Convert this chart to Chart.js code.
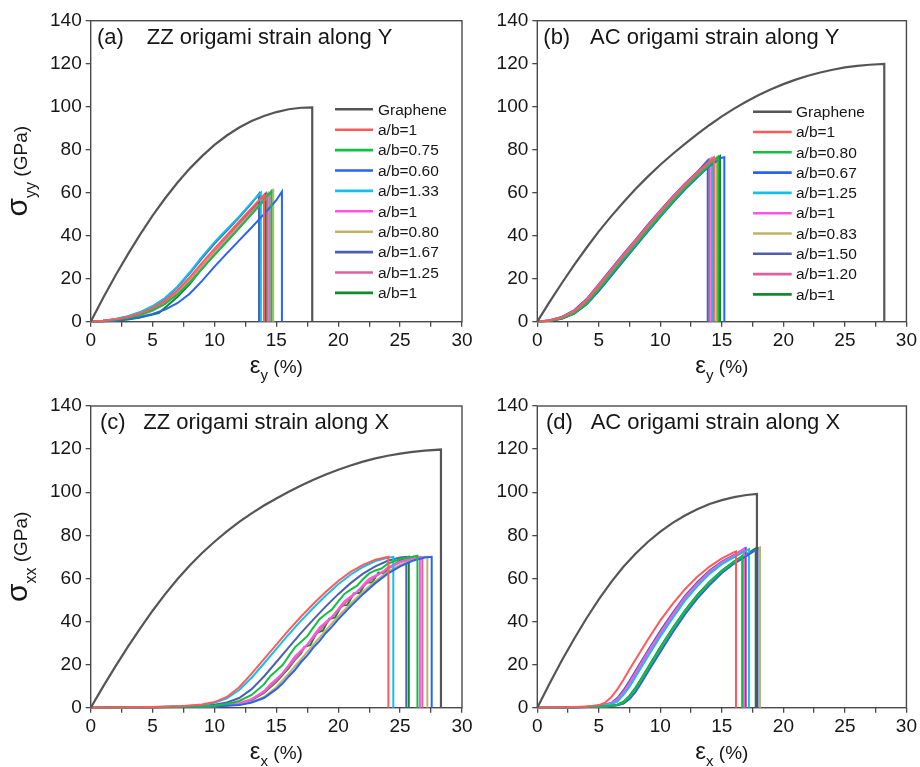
<!DOCTYPE html>
<html>
<head>
<meta charset="utf-8">
<title>Origami graphene stress-strain</title>
<script src="https://cdn.jsdelivr.net/npm/chart.js@4.4.0/dist/chart.umd.min.js"></script>
<style>
  html, body { margin: 0; padding: 0; background: #fff; }
  body { width: 920px; height: 767px; position: relative; overflow: hidden; }
  canvas { position: absolute; }
</style>
</head>
<body>
<canvas id="pa"></canvas>
<canvas id="pb"></canvas>
<canvas id="pc"></canvas>
<canvas id="pd"></canvas>
<script>
// ---------- data: [strain %, stress GPa] ----------
const labelsZZ = ['Graphene', 'a/b=1', 'a/b=0.75', 'a/b=0.60', 'a/b=1.33', 'a/b=1', 'a/b=0.80', 'a/b=1.67', 'a/b=1.25', 'a/b=1'];
const labelsAC = ['Graphene', 'a/b=1', 'a/b=0.80', 'a/b=0.67', 'a/b=1.25', 'a/b=1', 'a/b=0.83', 'a/b=1.50', 'a/b=1.20', 'a/b=1'];
const xTicks = [0, 5, 10, 15, 20, 25, 30];
const yTicks = [0, 20, 40, 60, 80, 100, 120, 140];

// (a) ZZ origami, strain along Y
const a_graphene = [[0,0],[1,11],[2,21.5],[3,31.3],[4,40.6],[5,49.3],[6,57.3],[7,64.6],[8,71.2],[9,77],[10,82.2],[11,86.6],[12,90.3],[13,93.3],[14,95.7],[15,97.5],[16,98.8],[17,99.5],[17.9,99.7],[17.9,0]];
const a_r1   = [[0,0],[1,0.4],[2,1.1],[3,2.2],[4,3.9],[5,6.4],[6,9.8],[7,14.6],[8,20.6],[9,27.4],[10,34],[11,40.3],[12,46.6],[13,52.8],[14,59],[14,0]];
const a_r075 = [[0,0],[1,0.3],[2,0.9],[3,1.8],[4,3.2],[5,5.3],[6,8.3],[7,12.6],[8,18.2],[9,24.6],[10,31],[11,37.2],[12,43.5],[13,50],[14,56.5],[14.6,60.8],[14.6,0]];
const a_r060 = [[0,0],[1,0.2],[2,0.6],[3,1.2],[4,2.2],[5,3.6],[6,5.6],[7,8.6],[8,13],[9,19],[10,25.6],[11,31.8],[12,37.8],[13,43.8],[14,50],[15,56.5],[15.45,60.5],[15.45,0]];
const a_r133 = [[0,0],[1,0.5],[2,1.3],[3,2.6],[4,4.5],[5,7.3],[6,11],[7,16.3],[8,23],[9,30.3],[10,37],[11,43],[12,49],[13,55.5],[13.75,60],[13.75,0]];
const a_r1b  = [[0,0],[1,0.3],[2,0.9],[3,1.8],[4,3.3],[5,5.5],[6,8.5],[7,12.8],[8,18.3],[9,24.7],[10,31.2],[11,37.6],[12,43.8],[13,50],[14,56.2],[14.45,59],[14.45,0]];
const a_r080 = [[0,0],[1,0.3],[2,0.8],[3,1.6],[4,2.9],[5,5],[6,8.3],[7,13],[8,19],[9,25.5],[10,32],[11,38.3],[12,44.5],[13,50.5],[14,56.5],[14.75,61],[14.75,0]];
const a_r167 = [[0,0],[1,0.4],[2,1.2],[3,2.4],[4,4.3],[5,7],[6,10.8],[7,16],[8,22.5],[9,29.6],[10,36.3],[11,42.4],[12,48.6],[13,55],[13.6,59.5],[13.6,0]];
const a_r125 = [[0,0],[1,0.4],[2,1],[3,2],[4,3.6],[5,5.9],[6,9.1],[7,13.6],[8,19.3],[9,25.9],[10,32.5],[11,38.9],[12,45.1],[13,51.3],[14,57.4],[14.3,59.5],[14.3,0]];
const a_r1c  = [[0,0],[1,0.2],[2,0.4],[3,1],[4,2],[5,3.3],[5.5,4],[6,6.5],[7,11.5],[8,17.5],[9,24.8],[10,32.5],[11,39],[12,45.5],[13,52],[14,58.5],[14.15,59.5],[14.15,0]];

// (b) AC origami, strain along Y
const b_graphene = [[0,0],[1,9.2],[2,18],[3,26.4],[4,34.4],[5,42],[6,49],[7,55.6],[8,61.8],[9,67.6],[10,73],[11,78],[12,82.7],[13,87.2],[14,91.5],[15,95.5],[16,99.1],[17,102.4],[18,105.4],[19,108.1],[20,110.5],[21,112.6],[22,114.4],[23,115.9],[24,117.2],[25,118.3],[26,119],[27,119.5],[28.2,119.9],[28.2,0]];
const b_r1   = [[0,0],[1,0.6],[2,1.9],[3,4.8],[4,9.7],[5,16.6],[6,23.6],[7,30.6],[8,37.4],[9,44.3],[10,51],[11,57.5],[12,63.6],[13,69],[14,74.2],[14.35,76.3],[14.35,0]];
const b_r080 = [[0,0],[1,0.4],[2,1.5],[3,4],[4,8.5],[5,15],[6,22],[7,29],[8,35.8],[9,42.7],[10,49.4],[11,55.9],[12,62.1],[13,67.7],[14,72.9],[14.7,76.8],[14.7,0]];
const b_r067 = [[0,0],[1,0.4],[2,1.4],[3,3.8],[4,8],[5,14.2],[6,21.2],[7,28.2],[8,35.1],[9,42],[10,48.8],[11,55.3],[12,61.5],[13,67.1],[14,72.4],[15,76.3],[15.2,76.5],[15.2,0]];
const b_r125 = [[0,0],[1,0.5],[2,1.8],[3,4.6],[4,9.3],[5,16.3],[6,23.3],[7,30.3],[8,37.1],[9,44],[10,50.8],[11,57.2],[12,63.3],[13,68.8],[14,74],[14.25,75.8],[14.25,0]];
const b_r1b  = [[0,0],[1,0.6],[2,2],[3,5],[4,10],[5,17],[6,24],[7,31],[8,37.8],[9,44.7],[10,51.4],[11,57.8],[12,63.9],[13,69.3],[14,74.5],[14.15,75.8],[14.15,0]];
const b_r083 = [[0,0],[1,0.45],[2,1.6],[3,4.2],[4,8.8],[5,15.3],[6,22.3],[7,29.3],[8,36.1],[9,43],[10,49.7],[11,56.2],[12,62.4],[13,68],[14,73.2],[14.55,76.2],[14.55,0]];
const b_r150 = [[0,0],[1,0.7],[2,2.2],[3,5.3],[4,10.4],[5,17.4],[6,24.4],[7,31.4],[8,38.2],[9,45.1],[10,51.8],[11,58.1],[12,64.2],[13,69.6],[13.85,75],[13.85,0]];
const b_r120 = [[0,0],[1,0.7],[2,2.2],[3,5.3],[4,10.4],[5,17.4],[6,24.4],[7,31.4],[8,38.2],[9,45.1],[10,51.8],[11,58.1],[12,64.2],[13,69.6],[14,75.5],[14,0]];
const b_r1c  = [[0,0],[1,0.4],[2,1.5],[3,3.8],[4,8.2],[5,14.6],[6,21.6],[7,28.6],[8,35.5],[9,42.3],[10,49.1],[11,55.6],[12,61.8],[13,67.5],[14,72.6],[14.85,77],[14.85,0]];

// (c) ZZ origami, strain along X
const c_graphene = [[0,0],[1,9.8],[2,19.2],[3,28.2],[4,36.8],[5,45],[6,52.6],[7,59.6],[8,66],[9,71.8],[10,77],[11,81.8],[12,86.2],[13,90.2],[14,93.8],[15,97.1],[16,100.2],[17,103.1],[18,105.8],[19,108.2],[20,110.4],[21,112.4],[22,114.2],[23,115.7],[24,116.9],[25,117.9],[26,118.7],[27,119.3],[28.3,119.8],[28.3,0]];
const c_r1   = [[0,0],[2.5,0.1],[5,0.3],[7.5,0.8],[9,1.5],[10,2.6],[11,5],[12,9.5],[13,15.8],[14,22.5],[15,29.3],[16,36],[17,42.3],[18,48.2],[19,53.8],[20,58.8],[21,63],[22,66.3],[23,68.7],[24.05,70],[24.05,0]];
const c_r075 = [[0,0],[2.5,0.1],[5,0.2],[7.5,0.4],[10,0.9],[11,1.7],[12,3.1],[13,5.9],[14,10.8],[14.5,14.6],[15,17.1],[15.5,19.8],[16,23.9],[16.5,28],[17,30.6],[17.5,33.2],[18,37.3],[18.5,41.2],[19,43.5],[19.5,45.6],[20,49.3],[20.5,52.8],[21,54.8],[21.5,56.5],[22,59.6],[22.5,62.3],[23,63.7],[23.5,64.6],[24,66.8],[25,69],[26,70],[26.4,70.5],[26.4,0]];
const c_r060 = [[0,0],[2.5,0.1],[5,0.2],[7.5,0.3],[10,0.5],[12,1.2],[13,2.4],[14,4.5],[15,8.6],[15.5,11.2],[16,14.5],[16.5,17.5],[17,21.2],[17.5,24.3],[18,28],[18.5,31],[19,34.7],[19.5,37.6],[20,41],[21,47],[22,52.7],[23,57.8],[24,62.2],[25,65.6],[26,68.2],[27,69.7],[27.55,70],[27.55,0]];
const c_r133 = [[0,0],[2.5,0.1],[5,0.3],[7.5,0.7],[9,1.3],[10,2.3],[11,4.3],[12,8.2],[13,13.9],[14,20.5],[15,27.3],[16,34],[17,40.4],[18,46.4],[19,52.1],[20,57.3],[21,61.7],[22,65.3],[23,68],[24,69.6],[24.45,70],[24.45,0]];
const c_r1b  = [[0,0],[2.5,0.1],[5,0.2],[7.5,0.4],[10,0.8],[11,1.3],[12,2.2],[13,4],[14,7.7],[14.5,10.8],[15,13.3],[15.5,16],[16,19.8],[16.5,23.8],[17,26.6],[17.5,29.3],[18,33.3],[18.5,37.2],[19,39.8],[19.5,42.2],[20,45.8],[20.5,49.4],[21,51.6],[21.5,53.6],[22,56.8],[22.5,59.8],[23,61.3],[23.5,62.6],[24,65],[25,67.7],[26,69.5],[26.6,70],[26.6,0]];
const c_r080 = [[0,0],[2.5,0.1],[5,0.2],[7.5,0.3],[10,0.6],[11,1],[12,1.5],[13,2.6],[14,5],[15,9.5],[16,15.8],[17,22.5],[18,29.3],[19,36],[20,42.3],[21,48.2],[22,53.8],[23,58.8],[24,63],[25,66.3],[26,68.7],[27,70],[27.2,70],[27.2,0]];
const c_r167 = [[0,0],[2.5,0.1],[5,0.2],[7.5,0.5],[9,1],[10,1.4],[11,2.4],[12,4.5],[13,8.6],[14,14.5],[15,21.2],[16,28],[17,34.7],[18,41],[19,47],[20,52.7],[21,57.8],[22,62.2],[23,65.6],[24,68.2],[25,69.7],[25.5,70],[25.5,0]];
const c_r125 = [[0,0],[2.5,0.1],[5,0.2],[7.5,0.4],[10,0.8],[11,1.2],[12,2],[13,3.8],[14,7.2],[15,12.6],[16,19.1],[17,25.9],[18,32.6],[19,39.1],[20,45.2],[21,51],[22,56.3],[23,60.9],[24,64.6],[25,67.5],[26,69.3],[26.8,70],[26.8,0]];
const c_r1c  = [[0,0],[2.5,0.1],[5,0.2],[7.5,0.4],[10,0.7],[11,1.1],[12,1.8],[13,3.5],[14,6.8],[15,12],[16,18.4],[16.5,22.2],[17,25.2],[17.25,28.1],[17.75,29.1],[18,32],[18.25,34.8],[18.75,35.7],[19,38.5],[19.25,41.2],[19.75,41.9],[20,44.6],[20.25,47.3],[20.75,47.7],[21,50.4],[21.25,53],[21.75,53.3],[22,55.8],[22.25,58.2],[22.75,58.1],[23,60.5],[23.25,62.7],[23.75,62.3],[24,64.5],[25,68.3],[25.7,70],[25.7,0]];

// (d) AC origami, strain along X
const d_graphene = [[0,0],[1,11.2],[2,22],[3,32],[4,41.5],[5,50.3],[6,58.3],[7,65.4],[8,71.6],[9,77],[10,81.7],[11,85.8],[12,89.2],[13,92.1],[14,94.5],[15,96.3],[16,97.7],[17,98.7],[17.85,99.2],[17.85,0]];
const d_r1   = [[0,0],[2.5,0.2],[4,0.5],[5,1.2],[5.5,2.3],[6,4.8],[6.5,8.5],[7,13],[7.5,17.8],[8,22.5],[9,31.8],[10,40.5],[11,48.2],[12,55],[13,60.8],[14,65.5],[15,69.3],[16,72.2],[16.15,72.5],[16.15,0]];
const d_r080 = [[0,0],[2.5,0.1],[5,0.5],[6,0.9],[6.5,1.3],[7,2.5],[7.5,5.2],[8,9],[8.5,13.5],[9,18.3],[10,27.7],[11,36.6],[12,44.8],[13,51.9],[14,58.2],[15,63.4],[16,67.6],[16.65,70.5],[16.65,0]];
const d_r067 = [[0,0],[2.5,0.1],[5,0.4],[6,0.8],[6.5,1.1],[7,1.9],[7.5,4],[8,7.5],[8.5,11.9],[9,16.7],[10,25.9],[11,34.9],[12,43.3],[13,50.6],[14,56.9],[15,62.5],[16,66.9],[17,70.4],[17.9,73.8],[17.9,0]];
const d_r125 = [[0,0],[2.5,0.1],[4,0.3],[5,0.6],[6,1.6],[6.5,2.8],[7,5.9],[7.5,9.8],[8,14.5],[9,23.9],[10,33.1],[11,41.5],[12,49.7],[13,56.3],[14,62.1],[15,66.6],[16,69.9],[17,73],[17.2,73.6],[17.2,0]];
const d_r1b  = [[0,0],[2.5,0.15],[4,0.35],[5,0.7],[6,2],[6.5,3.8],[7,7.2],[7.5,11.6],[8,16.3],[9,25.8],[10,34.8],[11,43.2],[12,51.2],[13,57.6],[14,63.1],[15,67.4],[16,70.6],[16.8,73.8],[16.8,0]];
const d_r083 = [[0,0],[2.5,0.1],[5,0.4],[6,0.8],[6.5,1.1],[7,2],[7.5,4.3],[8,7.9],[8.5,12.3],[9,17.1],[10,26.3],[11,35.3],[12,43.7],[13,50.9],[14,57.2],[15,62.7],[16,67],[17,70.5],[18.1,74.3],[18.1,0]];
const d_r150 = [[0,0],[2.5,0.15],[4,0.4],[5,0.8],[6,2.2],[6.5,4.5],[7,8.1],[7.5,12.5],[8,17.3],[9,26.7],[10,35.7],[11,44],[12,51.9],[13,58.2],[14,63.6],[15,67.8],[16,70.9],[16.9,74],[16.9,0]];
const d_r120 = [[0,0],[2.5,0.15],[4,0.35],[5,0.7],[6,1.9],[6.5,3.5],[7,6.9],[7.5,11.1],[8,15.8],[9,25.3],[10,34.4],[11,42.8],[12,50.8],[13,57.3],[14,62.8],[15,67.2],[16,70.4],[16.95,73.8],[16.95,0]];
const d_r1c  = [[0,0],[2.5,0.1],[5,0.5],[6,0.95],[6.5,1.4],[7,2.8],[7.5,5.6],[8,9.5],[8.5,14],[9,18.8],[10,28.2],[11,37],[12,45.2],[13,52.3],[14,58.5],[15,63.7],[16,67.9],[17,71.2],[17.75,74],[17.75,0]];

// ---------- styling ----------
const FONT = '"Liberation Sans", Arial, Helvetica, sans-serif';
const lineColors = ['#555555', '#ff5a5a', '#12c040', '#2a62f5', '#12c0ee', '#ff55e6', '#c2b262', '#4f5fb0', '#e0609e', '#108a2a'];
const AXIS = '#4a4a4a';
const TEXT = '#161616';

const panels = [
  { id: 'pa', left: 0, top: 0, w: 480, h: 392,
    pad: { left: 50, top: 20.7, right: 18, bottom: 40.3 }, wy: 40.7, hx: 30,
    tag: '(a)', title: 'ZZ origami strain along Y', tagX: 97, titleX: 146.7,
    yTitle: { sub: 'yy' }, xSub: 'y',
    legend: { x0: 335, x1: 373, tx: 378, y0: 109.3, dy: 20.4 },
    labels: labelsZZ,
    series: [a_graphene, a_r1, a_r075, a_r060, a_r133, a_r1b, a_r080, a_r167, a_r125, a_r1c] },
  { id: 'pb', left: 460, top: 0, w: 460, h: 392,
    pad: { left: 37.3, top: 20.7, right: 11.7, bottom: 40.3 }, wy: 40, hx: 30,
    tag: '(b)', title: 'AC origami strain along Y', tagX: 83.3, titleX: 130,
    yTitle: null, xSub: 'y',
    legend: { x0: 293, x1: 331.7, tx: 336, y0: 111.7, dy: 20.3 },
    labels: labelsAC,
    series: [b_graphene, b_r1, b_r080, b_r067, b_r125, b_r1b, b_r083, b_r150, b_r120, b_r1c] },
  { id: 'pc', left: 0, top: 383, w: 480, h: 384,
    pad: { left: 50, top: 23, right: 18, bottom: 29.3 }, wy: 40.7, hx: 30,
    tag: '(c)', title: 'ZZ origami strain along X', tagX: 100, titleX: 143.3,
    yTitle: { sub: 'xx' }, xSub: 'x',
    legend: null,
    labels: labelsZZ,
    series: [c_graphene, c_r1, c_r075, c_r060, c_r133, c_r1b, c_r080, c_r167, c_r125, c_r1c] },
  { id: 'pd', left: 460, top: 383, w: 460, h: 384,
    pad: { left: 37.3, top: 23, right: 11.7, bottom: 29.3 }, wy: 40, hx: 30,
    tag: '(d)', title: 'AC origami strain along X', tagX: 86, titleX: 130.7,
    yTitle: null, xSub: 'x',
    legend: null,
    labels: labelsAC,
    series: [d_graphene, d_r1, d_r080, d_r067, d_r125, d_r1b, d_r083, d_r150, d_r120, d_r1c] }
];

// Text with a subscript, drawn left to right from x on the given baseline.
function drawSubText(ctx, parts, x, baseline) {
  let cx = x;
  for (const p of parts) {
    ctx.font = p.size + 'px ' + FONT;
    ctx.fillText(p.text, cx, baseline + (p.dy || 0));
    cx += ctx.measureText(p.text).width;
  }
}
function measureParts(ctx, parts) {
  let w = 0;
  for (const p of parts) { ctx.font = p.size + 'px ' + FONT; w += ctx.measureText(p.text).width; }
  return w;
}

function panelDecor(cfg) {
  return {
    id: 'panelDecor',
    beforeDatasetsDraw(chart) {
      const { ctx, chartArea: a } = chart;
      ctx.save();
      ctx.strokeStyle = AXIS;
      ctx.lineWidth = 1.4;
      ctx.strokeRect(a.left, a.top, a.right - a.left, a.bottom - a.top);
      ctx.restore();
    },
    afterDraw(chart) {
      const { ctx, chartArea: a } = chart;
      ctx.save();
      ctx.fillStyle = TEXT;
      ctx.textBaseline = 'alphabetic';
      ctx.textAlign = 'left';
      // panel heading
      ctx.font = '22px ' + FONT;
      ctx.fillText(cfg.tag, cfg.tagX, a.top + 23);
      ctx.fillText(cfg.title, cfg.titleX, a.top + 23);

      // x axis title: epsilon with subscript
      const xParts = [
        { text: 'ε', size: 24 },
        { text: cfg.xSub, size: 15, dy: 7 },
        { text: ' (%)', size: 19 }
      ];
      const xw = measureParts(ctx, xParts);
      drawSubText(ctx, xParts, (a.left + a.right) / 2 - xw / 2, a.bottom + 51.5);

      // y axis title: sigma with subscript, rotated
      if (cfg.yTitle) {
        const yParts = [
          { text: 'σ', size: 30 },
          { text: cfg.yTitle.sub, size: 16, dy: 9 },
          { text: ' (GPa)', size: 19 }
        ];
        const yw = measureParts(ctx, yParts);
        ctx.translate(27, (a.top + a.bottom) / 2);
        ctx.rotate(-Math.PI / 2);
        drawSubText(ctx, yParts, -yw / 2, 0);
        ctx.setTransform(1, 0, 0, 1, 0, 0);
      }

      // legend drawn from the datasets
      if (cfg.legend) {
        const L = cfg.legend;
        ctx.font = '15.5px ' + FONT;
        ctx.textBaseline = 'middle';
        chart.data.datasets.forEach((ds, i) => {
          const y = L.y0 + i * L.dy;
          ctx.strokeStyle = ds.borderColor;
          ctx.lineWidth = 2.6;
          ctx.beginPath();
          ctx.moveTo(L.x0, y);
          ctx.lineTo(L.x1, y);
          ctx.stroke();
          ctx.fillStyle = TEXT;
          ctx.fillText(ds.label, L.tx, y + 1);
        });
      }
      ctx.restore();
    }
  };
}

for (const cfg of panels) {
  const canvas = document.getElementById(cfg.id);
  canvas.width = cfg.w;
  canvas.height = cfg.h;
  canvas.style.left = cfg.left + 'px';
  canvas.style.top = cfg.top + 'px';
  canvas.style.width = cfg.w + 'px';
  canvas.style.height = cfg.h + 'px';

  const datasets = cfg.series.map((s, i) => ({
    label: cfg.labels[i],
    data: s.map(p => ({ x: p[0], y: p[1] })),
    borderColor: lineColors[i],
    backgroundColor: lineColors[i],
    borderWidth: i === 0 ? 2.2 : 2,
    pointRadius: 0,
    fill: false,
    tension: 0,
    clip: false
  }));

  new Chart(canvas, {
    type: 'line',
    data: { datasets },
    options: {
      responsive: false,
      animation: false,
      devicePixelRatio: 1,
      layout: { padding: cfg.pad },
      plugins: { legend: { display: false }, tooltip: { enabled: false } },
      scales: {
        x: {
          type: 'linear',
          min: xTicks[0],
          max: xTicks[xTicks.length - 1],
          afterFit(s) { s.height = cfg.hx; },
          afterBuildTicks(s) {
            // major ticks every 5 %, minor halfway between
            const t = [];
            xTicks.forEach((v, i) => {
              t.push({ value: v });
              if (i < xTicks.length - 1) t.push({ value: (v + xTicks[i + 1]) / 2 });
            });
            s.ticks = t;
          },
          ticks: {
            autoSkip: false,
            maxRotation: 0,
            padding: 3,
            color: TEXT,
            font: { family: FONT, size: 19 },
            callback: v => (xTicks.includes(v) ? String(v) : '')
          },
          grid: { drawOnChartArea: false, tickLength: 5, color: AXIS, lineWidth: 1.3 },
          border: { display: false }
        },
        y: {
          min: yTicks[0],
          max: yTicks[yTicks.length - 1],
          afterFit(s) { s.width = cfg.wy; },
          afterBuildTicks(s) { s.ticks = yTicks.map(v => ({ value: v })); },
          ticks: {
            padding: 4,
            color: TEXT,
            font: { family: FONT, size: 19 }
          },
          grid: { drawOnChartArea: false, tickLength: 5, color: AXIS, lineWidth: 1.3 },
          border: { display: false }
        }
      }
    },
    plugins: [panelDecor(cfg)]
  });
}
</script>
</body>
</html>
